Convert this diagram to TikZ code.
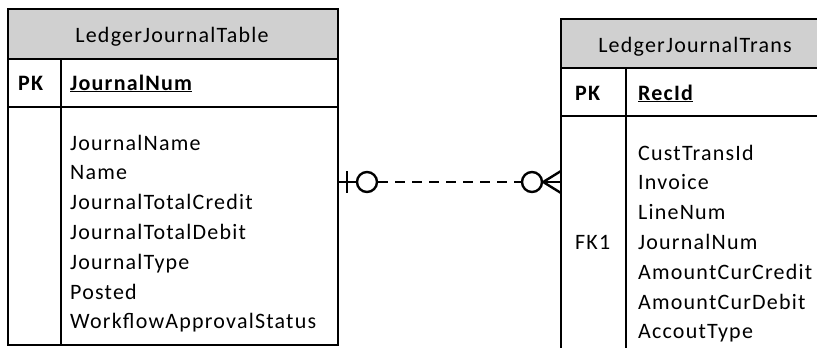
\documentclass[tikz,border=0pt]{standalone}
\usepackage{fontspec}
\setmainfont{Carlito}[LetterSpace=5.5]
\definecolor{hdrgray}{RGB}{208,208,208}
\tikzset{
  tbl/.style={line width=1.6pt},
  field/.style={anchor=base west, inner sep=0pt, font=\fontsize{22}{26}\selectfont},
  title/.style={anchor=base, inner sep=0pt, font=\fontsize{22}{26}\selectfont},
  rel/.style={line width=2.4pt},
  crowo/.style={circle, draw, line width=2.4pt, minimum size=20pt, inner sep=0pt}
}
\begin{document}
\begin{tikzpicture}[x=1pt, y=-1pt]
\useasboundingbox (0,0) rectangle (817,348);
\clip (0,0) rectangle (817,348);

% LedgerJournalTable
\draw[tbl, fill=hdrgray] (8,9) rectangle (338,59);
\draw[tbl] (8,59) rectangle (338,107);
\draw[tbl] (8,107) rectangle (338,345);
\draw[tbl] (61,59) -- (61,345);
\node[title] (ljtTitle) at (172,42) {LedgerJournalTable};
\node[field] (ljtPK) at (18,90) {\textbf{PK}};
\node[field] (ljtKey) at (70,90) {\textbf{\underline{JournalNum}}};
\foreach \fld [count=\i from 0] in {JournalName, Name, JournalTotalCredit, JournalTotalDebit, JournalType, Posted, WorkflowApprovalStatus}
  \node[field] (ljtF\i) at (70,150+29.8*\i) {\fld};

% LedgerJournalTrans
\draw[tbl, fill=hdrgray] (561,19) rectangle (840,68);
\draw[tbl] (561,68) rectangle (840,116);
\draw[tbl] (561,116) rectangle (840,370);
\draw[tbl] (626,68) -- (626,370);
\node[title] (ljtrTitle) at (695,52) {LedgerJournalTrans};
\node[field] (ljtrPK) at (575,100) {\textbf{PK}};
\node[field] (ljtrKey) at (638,100) {\textbf{\underline{RecId}}};
\node[field] (ljtrFK) at (575,249.4) {FK1};
\foreach \fld [count=\i from 0] in {CustTransId, Invoice, LineNum, JournalNum, AmountCurCredit, AmountCurDebit, AccoutType}
  \node[field] (ljtrF\i) at (638,160+29.8*\i) {\fld};

% relation: zero or one -- zero or many
\coordinate (relA) at (338,182);
\coordinate (relB) at (561,182);
\node[crowo] (oneO) at (367,182) {};
\node[crowo] (manyO) at (532,182) {};
\draw[rel] (relA) -- (oneO);
\draw[rel] (347,171) -- (347,193);
\draw[rel, dash pattern=on 10pt off 7pt] (oneO) -- (manyO);
\draw[rel] (manyO.east) -- (relB);
\draw[rel] (561,171) -- (manyO.east) -- (561,193);
\end{tikzpicture}
\end{document}
